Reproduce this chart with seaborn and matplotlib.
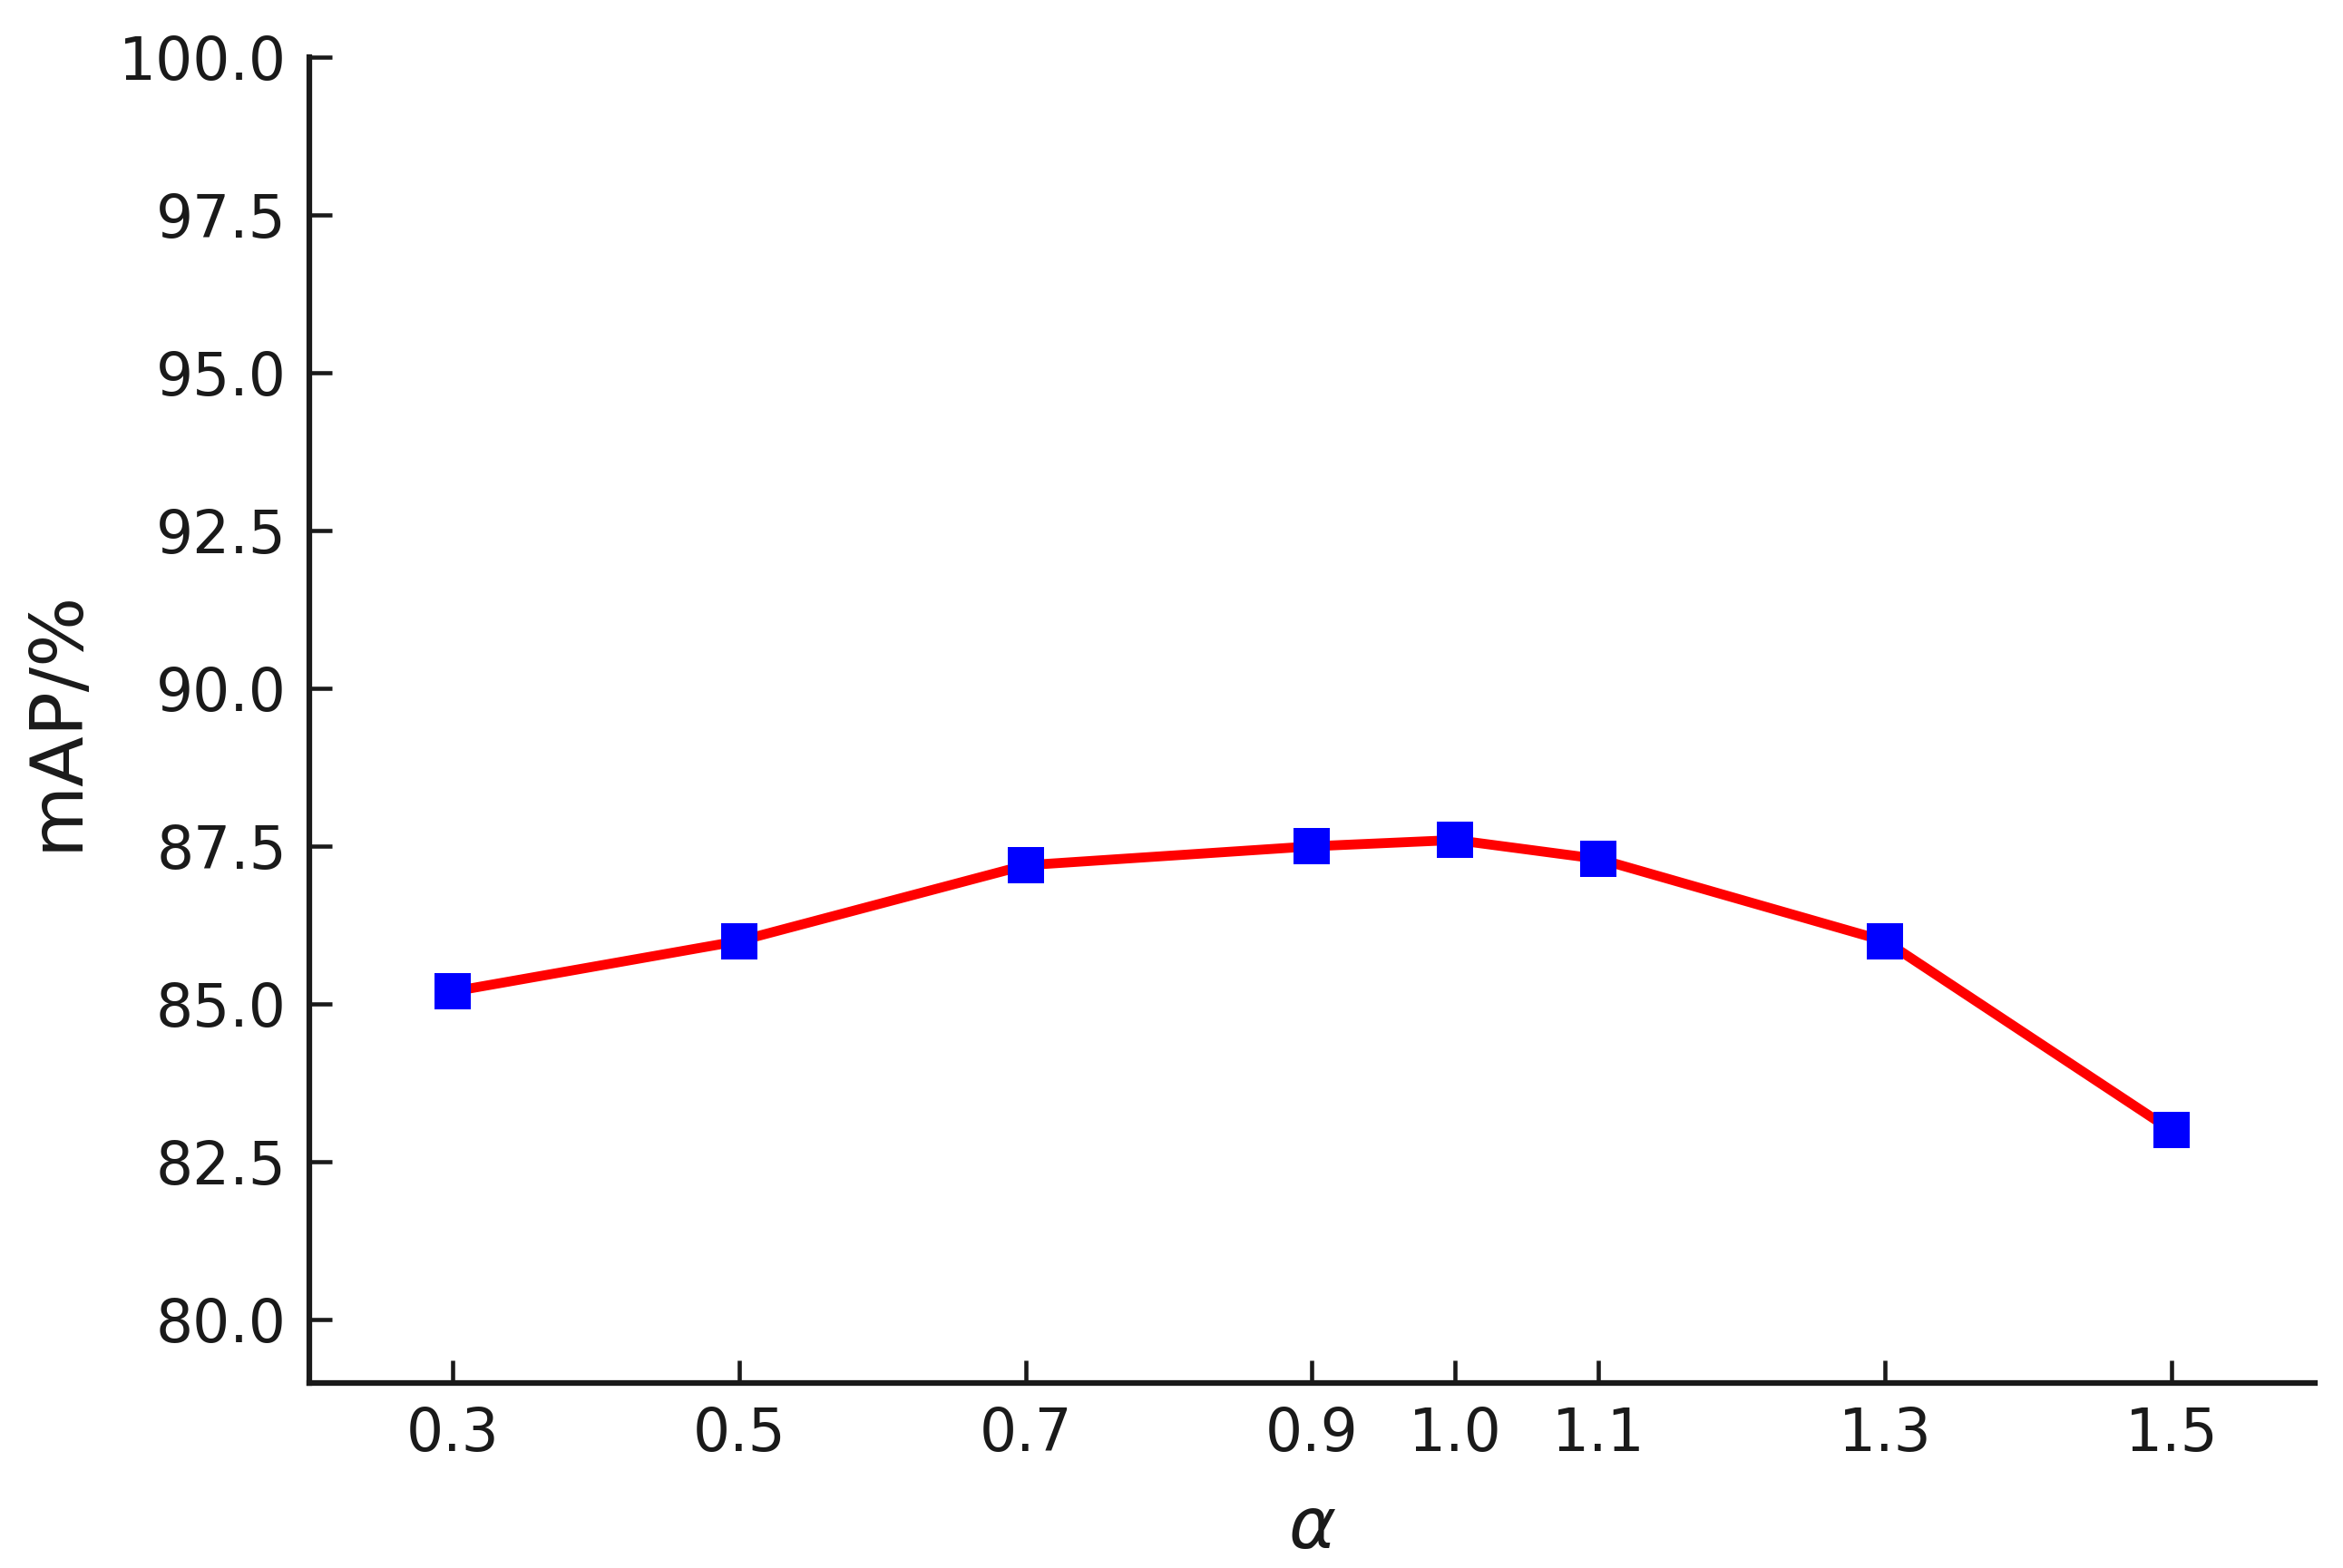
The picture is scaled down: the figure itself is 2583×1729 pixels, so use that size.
import numpy as np
import pandas as pd
import matplotlib
matplotlib.use('Agg')
import matplotlib.pyplot as plt
import seaborn as sns

# alpha values and mAP
alpha = [0.3, 0.5, 0.7, 0.9, 1.0, 1.1, 1.3, 1.5]
map_pct = [85.2, 86.0, 87.2, 87.5, 87.6, 87.3, 86.0, 83.0]
y_ticks = [80.0, 82.5, 85.0, 87.5, 90.0, 92.5, 95.0, 97.5, 100.0]


def plot_alpha_sensitivity():
    df = pd.DataFrame({'alpha': alpha, 'mAP': map_pct})

    sns.set_theme(style='ticks')
    plt.rcParams['font.family'] = ['DejaVu Sans']
    plt.rcParams['mathtext.fontset'] = 'dejavusans'

    fig, ax = plt.subplots(figsize=(2583 / 300, 1729 / 300), dpi=300)
    fig.subplots_adjust(left=0.132, right=0.988, bottom=0.118, top=0.9636)

    sns.lineplot(data=df, x='alpha', y='mAP', ax=ax,
                 color='#ff0000', linewidth=2.6,
                 marker='s', markersize=9.5,
                 markerfacecolor='#0000ff', markeredgecolor='#0000ff',
                 markeredgewidth=0, zorder=3)

    ax.set_xlim(0.2, 1.6)
    ax.set_ylim(79.0, 100.0)
    ax.set_xticks(alpha)
    ax.set_xticklabels([f'{a:.1f}' for a in alpha])
    ax.set_yticks(y_ticks)
    ax.set_yticklabels([f'{t:.1f}' for t in y_ticks])

    ax.set_xlabel(r'$\alpha$', fontsize=19, color='#1a1a1a', labelpad=8)
    ax.set_ylabel('mAP/%', fontsize=19.5, color='#1a1a1a', labelpad=7)

    ax.tick_params(axis='both', direction='in', length=6, width=1.1,
                   labelsize=15.5, colors='#1a1a1a', pad=6)
    for side in ['left', 'bottom']:
        ax.spines[side].set_linewidth(1.5)
        ax.spines[side].set_color('#1a1a1a')
    sns.despine(ax=ax)

    fig.savefig('out.png', dpi=300, facecolor='white')


if __name__ == '__main__':
    plot_alpha_sensitivity()
